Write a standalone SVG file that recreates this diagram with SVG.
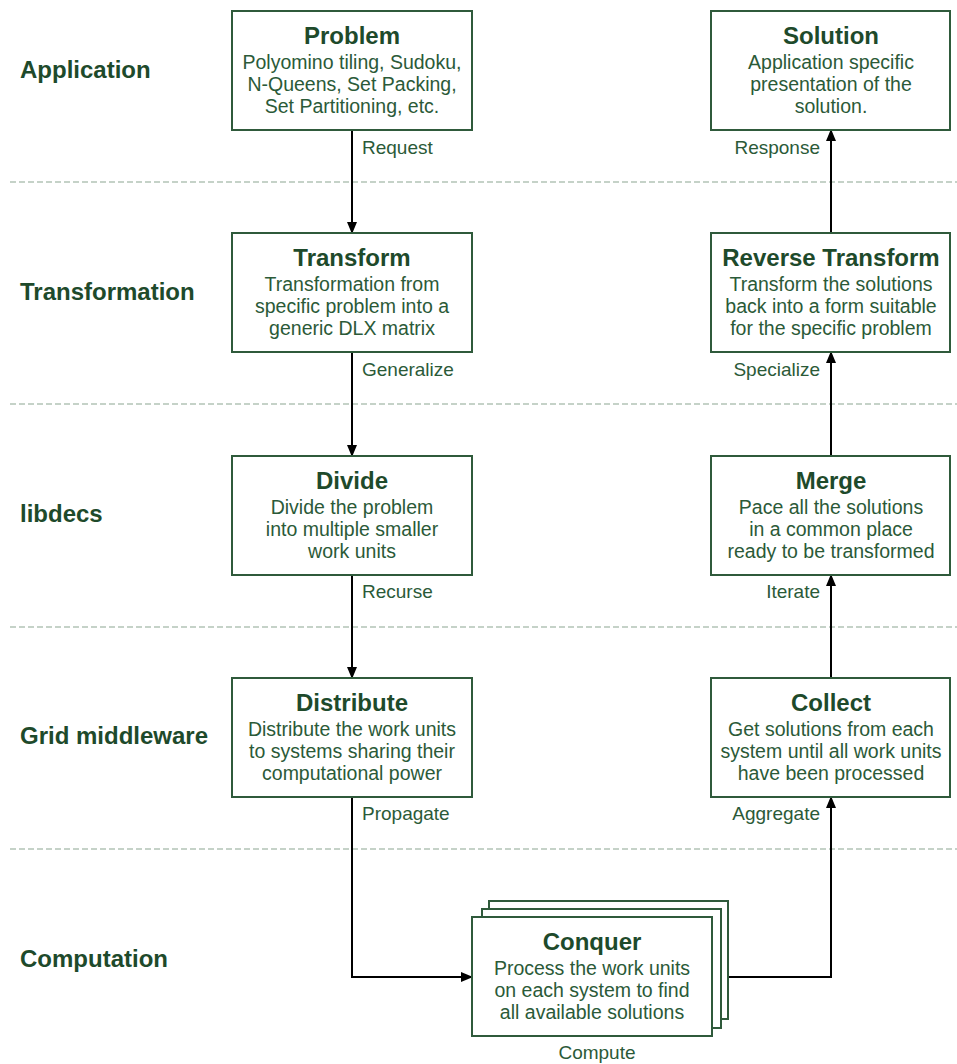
<svg xmlns="http://www.w3.org/2000/svg" width="957" height="1064" viewBox="0 0 957 1064">
<style>
.box{fill:#fff;stroke:#2f5a3b;stroke-width:2}
.t{font-family:"Liberation Sans",Arial,sans-serif;font-weight:bold;font-size:24px;fill:#1e4a2b;text-anchor:middle}
.b{font-family:"Liberation Sans",Arial,sans-serif;font-size:19.5px;fill:#2b5a38;text-anchor:middle}
.lane{font-family:"Liberation Sans",Arial,sans-serif;font-weight:bold;font-size:24px;fill:#1e4a2b}
.lbl{font-family:"Liberation Sans",Arial,sans-serif;font-size:19px;fill:#2b5a38}
.sep{stroke:#b3c3b7;stroke-width:1.5;stroke-dasharray:6,3}
.c{fill:none;stroke:#000;stroke-width:2;marker-end:url(#ah)}
</style>
<defs>
<marker id="ah" viewBox="0 0 12 10" refX="11" refY="5" markerWidth="12" markerHeight="10" markerUnits="userSpaceOnUse" orient="auto"><path d="M0,0L12,5L0,10z" fill="#000"/></marker>
</defs>
<rect width="957" height="1064" fill="#fff"/>
<g id="separators">
<line class="sep" x1="10" y1="182" x2="957" y2="182"/>
<line class="sep" x1="10" y1="404" x2="957" y2="404"/>
<line class="sep" x1="10" y1="627" x2="957" y2="627"/>
<line class="sep" x1="10" y1="849" x2="957" y2="849"/>
</g>
<g id="lanes">
<text class="lane" x="20" y="78">Application</text>
<text class="lane" x="20" y="300">Transformation</text>
<text class="lane" x="20" y="522">libdecs</text>
<text class="lane" x="20" y="744">Grid middleware</text>
<text class="lane" x="20" y="967">Computation</text>
</g>
<g id="connectors">
<path class="c" d="M352,130V233"/>
<path class="c" d="M352,352V456"/>
<path class="c" d="M352,575V678"/>
<path class="c" d="M352,797V977H472"/>
<path class="c" d="M712,977H831V797"/>
<path class="c" d="M831,678V575"/>
<path class="c" d="M831,456V352"/>
<path class="c" d="M831,233V130"/>
<text class="lbl" x="362" y="154">Request</text>
<text class="lbl" x="362" y="376">Generalize</text>
<text class="lbl" x="362" y="598">Recurse</text>
<text class="lbl" x="362" y="820">Propagate</text>
<text class="lbl" x="820" y="820" text-anchor="end">Aggregate</text>
<text class="lbl" x="820" y="598" text-anchor="end">Iterate</text>
<text class="lbl" x="820" y="376" text-anchor="end">Specialize</text>
<text class="lbl" x="820" y="154" text-anchor="end">Response</text>
<text class="lbl" x="597" y="1059" text-anchor="middle">Compute</text>
</g>
<g id="problem">
<rect class="box" x="232" y="11" width="240" height="119"/>
<text class="t" x="352" y="44">Problem</text>
<text class="b" x="352" y="69">Polyomino tiling, Sudoku,</text>
<text class="b" x="352" y="91">N-Queens, Set Packing,</text>
<text class="b" x="352" y="113">Set Partitioning, etc.</text>
</g>
<g id="solution">
<rect class="box" x="711" y="11" width="239" height="119"/>
<text class="t" x="831" y="44">Solution</text>
<text class="b" x="831" y="69">Application specific</text>
<text class="b" x="831" y="91">presentation of the</text>
<text class="b" x="831" y="113">solution.</text>
</g>
<g id="transform">
<rect class="box" x="232" y="233" width="240" height="119"/>
<text class="t" x="352" y="266">Transform</text>
<text class="b" x="352" y="291">Transformation from</text>
<text class="b" x="352" y="313">specific problem into a</text>
<text class="b" x="352" y="335">generic DLX matrix</text>
</g>
<g id="reverse-transform">
<rect class="box" x="711" y="233" width="239" height="119"/>
<text class="t" x="831" y="266">Reverse Transform</text>
<text class="b" x="831" y="291">Transform the solutions</text>
<text class="b" x="831" y="313">back into a form suitable</text>
<text class="b" x="831" y="335">for the specific problem</text>
</g>
<g id="divide">
<rect class="box" x="232" y="456" width="240" height="119"/>
<text class="t" x="352" y="489">Divide</text>
<text class="b" x="352" y="514">Divide the problem</text>
<text class="b" x="352" y="536">into multiple smaller</text>
<text class="b" x="352" y="558">work units</text>
</g>
<g id="merge">
<rect class="box" x="711" y="456" width="239" height="119"/>
<text class="t" x="831" y="489">Merge</text>
<text class="b" x="831" y="514">Pace all the solutions</text>
<text class="b" x="831" y="536">in a common place</text>
<text class="b" x="831" y="558">ready to be transformed</text>
</g>
<g id="distribute">
<rect class="box" x="232" y="678" width="240" height="119"/>
<text class="t" x="352" y="711">Distribute</text>
<text class="b" x="352" y="736">Distribute the work units</text>
<text class="b" x="352" y="758">to systems sharing their</text>
<text class="b" x="352" y="780">computational power</text>
</g>
<g id="collect">
<rect class="box" x="711" y="678" width="239" height="119"/>
<text class="t" x="831" y="711">Collect</text>
<text class="b" x="831" y="736">Get solutions from each</text>
<text class="b" x="831" y="758">system until all work units</text>
<text class="b" x="831" y="780">have been processed</text>
</g>
<g id="conquer">
<rect class="box" x="489" y="901" width="239" height="118"/>
<rect class="box" x="482" y="909" width="239" height="119"/>
<rect class="box" x="472" y="917" width="240" height="119"/>
<text class="t" x="592" y="950">Conquer</text>
<text class="b" x="592" y="975">Process the work units</text>
<text class="b" x="592" y="997">on each system to find</text>
<text class="b" x="592" y="1019">all available solutions</text>
</g>
</svg>
